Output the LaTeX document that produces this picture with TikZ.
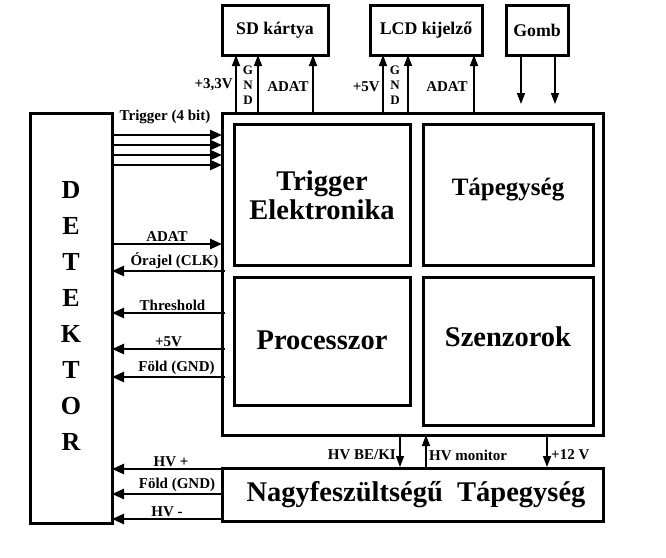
\documentclass[tikz,border=0pt]{standalone}
\usepackage{fontspec}
\setmainfont{Liberation Serif}
\usetikzlibrary{arrows.meta}
\tikzset{
    blk/.style = {draw=black, line width=3pt, inner sep=0pt},
    big/.style = {font=\bfseries\fontsize{28.5}{29}\selectfont, align=center},
    lbl/.style = {font=\bfseries\fontsize{15}{14}\selectfont, inner sep=1pt},
    boxlbl/.style = {font=\bfseries\fontsize{17.8}{18}\selectfont},
    arrow/.style = {line width=2.5pt, -{Triangle[length=12pt,width=10pt]}},
    thinarrow/.style = {line width=1.5pt, -{Triangle[length=11pt,width=8pt]}}
}
\begin{document}
\begin{tikzpicture}[x=1pt,y=-1pt]
\useasboundingbox (0,0) rectangle (666,557);
% blocks
\draw[blk] (30,113) rectangle (112,523);
\node[big, align=center, font=\bfseries\fontsize{26}{36}\selectfont] (det) at (71,316) {D\\E\\T\\E\\K\\T\\O\\R};
\draw[blk] (222,113) rectangle (603,435);
\draw[blk] (234,124) rectangle (410,265);
\node[big] (trig) at (322,195) {Trigger\\Elektronika};
\draw[blk] (423,124) rectangle (593,265);
\node[boxlbl, font=\bfseries\fontsize{25}{26}\selectfont] (tap) at (508,190) {Tápegység};
\draw[blk] (234,277) rectangle (410,405);
\node[big] (proc) at (322,340) {Processzor};
\draw[blk] (423,277) rectangle (593,425);
\node[big] (szen) at (508,337) {Szenzorok};
\draw[blk] (222,468) rectangle (603,521);
\node[big] (hv) at (416,495) {Nagyfeszültségű~~Tápegység};
\draw[blk] (222,5) rectangle (328,55);
\node[boxlbl] (sd) at (275,30) {SD kártya};
\draw[blk] (370,5) rectangle (482,55);
\node[boxlbl] (lcd) at (426,30) {LCD kijelző};
\draw[blk] (506,5) rectangle (568,55);
\node[boxlbl] (gomb) at (537,30) {Gomb};
% top connectors
\foreach \x in {236,258,313,383,408,474}
  \draw[thinarrow] (\x,113) -- (\x,55);
\foreach \x in {521,555}
  \draw[thinarrow] (\x,55) -- (\x,104);
\node[lbl, anchor=east] (v33) at (234,85) {+3,3V};
\node[lbl, align=center, font=\bfseries\fontsize{13}{15}\selectfont] (gnd1) at (248,85) {G\\N\\D};
\node[lbl] (adat1) at (288,87) {ADAT};
\node[lbl, anchor=east] (v5a) at (381,87) {+5V};
\node[lbl, align=center, font=\bfseries\fontsize{13}{15}\selectfont] (gnd2) at (395,85) {G\\N\\D};
\node[lbl] (adat2) at (447,87) {ADAT};
% detector connectors
\node[lbl] (trg) at (165,117) {Trigger (4 bit)};
\foreach \y in {135,145,155,165}
  \draw[arrow] (112,\y) -- (222,\y);
\draw[arrow] (112,244) -- (222,244) node[lbl, midway, above] (adat3) {ADAT};
\draw[arrow] (225,271) -- (112,271) node[lbl, midway, above, xshift=6pt] (clk) {Órajel (CLK)};
\draw[arrow] (225,313) -- (112,313) node[lbl, midway, above, xshift=4pt] (thr) {Threshold};
\draw[arrow] (225,349) -- (112,349) node[lbl, midway, above] (v5b) {+5V};
\draw[arrow] (225,377) -- (112,377) node[lbl, midway, above, xshift=8pt] (gnd3) {Föld (GND)};
\draw[arrow] (222,469) -- (112,469) node[lbl, midway, above, xshift=4pt] (hvp) {HV +};
\draw[arrow] (222,494) -- (112,494) node[lbl, midway, above, xshift=10pt] (gnd4) {Föld (GND)};
\draw[arrow] (222,519) -- (112,519) node[lbl, midway, above] (hvm) {HV -};
% HV connectors
\draw[thinarrow] (400,435) -- (400,467);
\draw[thinarrow] (426,467) -- (426,435);
\draw[thinarrow] (547,435) -- (547,467);
\node[lbl, anchor=east] (hvbe) at (397,455) {HV BE/KI};
\node[lbl, anchor=west] (hvmon) at (428,455) {HV monitor};
\node[lbl, anchor=west] (v12) at (550,455) {+12 V};
\end{tikzpicture}
\end{document}
